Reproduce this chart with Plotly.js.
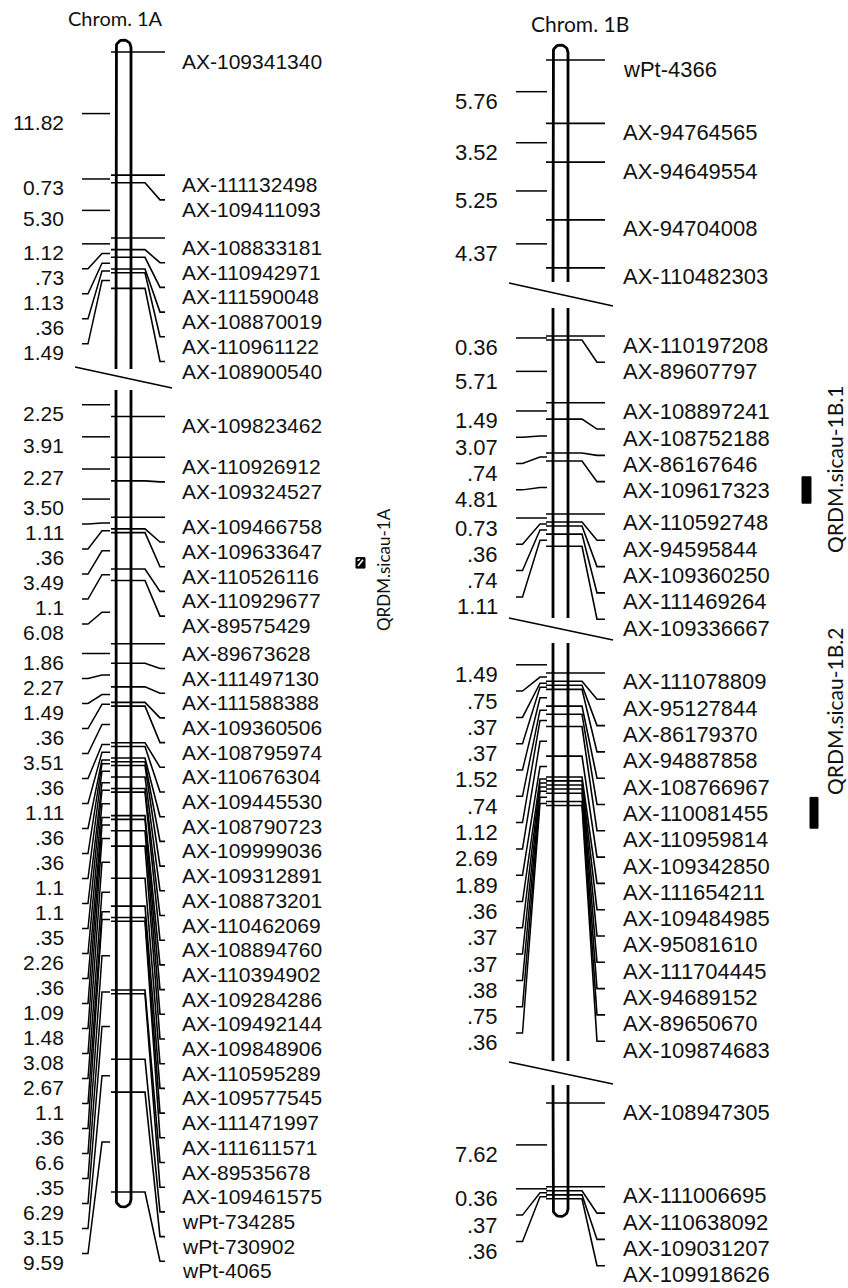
<!DOCTYPE html>
<html><head><meta charset="utf-8">
<script src="https://cdn.plot.ly/plotly-3.0.1.min.js"></script>
<style>html,body{margin:0;padding:0;background:#fff}#chart{width:848px;height:1288px}</style>
</head><body><div id="chart"></div>
<script>
// ---------------- DATA ----------------
const chromNames = ["Chrom. 1A", "Chrom. 1B"];

const markers1A = ["AX-109341340","AX-111132498","AX-109411093","AX-108833181","AX-110942971","AX-111590048","AX-108870019","AX-110961122","AX-108900540",
  "AX-109823462","AX-110926912","AX-109324527","AX-109466758","AX-109633647","AX-110526116","AX-110929677","AX-89575429","AX-89673628","AX-111497130",
  "AX-111588388","AX-109360506","AX-108795974","AX-110676304","AX-109445530","AX-108790723","AX-109999036","AX-109312891","AX-108873201","AX-110462069",
  "AX-108894760","AX-110394902","AX-109284286","AX-109492144","AX-109848906","AX-110595289","AX-109577545","AX-111471997","AX-111611571","AX-89535678",
  "AX-109461575","wPt-734285","wPt-730902","wPt-4065"];
// interval (cM) between marker i and i+1, as printed
const intervals1A = ["11.82","0.73","5.30","1.12",".73","1.13",".36","1.49",
  "2.25","3.91","2.27","3.50","1.11",".36","3.49","1.1","6.08","1.86","2.27","1.49",".36","3.51",".36","1.11",".36",".36","1.1","1.1",".35","2.26",".36",
  "1.09","1.48","3.08","2.67","1.1",".36","6.6",".35","6.29","3.15","9.59"];
const segStarts1A = [0, 9];

const markers1B = ["wPt-4366","AX-94764565","AX-94649554","AX-94704008","AX-110482303",
  "AX-110197208","AX-89607797","AX-108897241","AX-108752188","AX-86167646","AX-109617323","AX-110592748","AX-94595844","AX-109360250","AX-111469264","AX-109336667",
  "AX-111078809","AX-95127844","AX-86179370","AX-94887858","AX-108766967","AX-110081455","AX-110959814","AX-109342850","AX-111654211","AX-109484985","AX-95081610",
  "AX-111704445","AX-94689152","AX-89650670","AX-109874683",
  "AX-108947305","AX-111006695","AX-110638092","AX-109031207","AX-109918626"];
const intervals1B = ["5.76","3.52","5.25","4.37", null,
  "0.36","5.71","1.49","3.07",".74","4.81","0.73",".36",".74","1.11",
  "1.49",".75",".37",".37","1.52",".74","1.12","2.69","1.89",".36",".37",".37",".38",".75",".36", null,
  "7.62","0.36",".37",".36"];
const segStarts1B = [0, 5, 16, 31];

// QTL: chromosome, segment, start/end cM within segment
const qtlNames = ["QRDM.sicau-1A","QRDM.sicau-1B.1","QRDM.sicau-1B.2"];
const qtlChrom = [0, 1, 1];
const qtlSeg = [1, 1, 2];
const qtlStartCM = [15.8, 12.8, 12.8];
const qtlEndCM = [16.8, 15.2, 15.6];

// ---------------- LAYOUT GEOMETRY ----------------
const P = [
 {cx:123.5, ppc:10.42, half:7.5, tickL:-12.5, tickBend:21.5, tickDiag:36.5, tickEnd:41.5, labX:56.5,
  lStart:-13.5, lBend:-21.5, lDiag:-35.5, lEnd:-41.5, lLabX:-57.5, spacing:24.7, lSpacing:25, textOff:9.5, leftOff:8.5,
  font:21, titleX:115, titleY:18, titleSize:20,
  segs:[{origin:52, top:47.5, bot:369, capTop:true},{origin:393, top:390, bot:1199.5, capBot:true}],
  breakLines:[[75,367,172,388]]},
 {cx:560.5, ppc:11.0, half:7.5, tickL:-14.5, tickBend:21.5, tickDiag:36.5, tickEnd:44.5, labX:60.5,
  lStart:-13.5, lBend:-20.5, lDiag:-38, lEnd:-44.5, lLabX:-60.5, spacing:26.3, lSpacing:26.3, textOff:9, leftOff:10,
  font:22, titleX:580, titleY:23, titleSize:21,
  segs:[{origin:60, top:52.5, bot:282, capTop:true},{origin:336, top:308, bot:618},{origin:656.6, top:643, bot:1061},{origin:1103, top:1085, bot:1209, capBot:true}],
  breakLines:[[509,283,613,306],[509,618,613,640],[509,1062,613,1084]]}
];
const qtlBox = [{x0:356,x1:365,lx:383,ly:570,size:17,hatch:true},{x0:802,x1:811,lx:834,ly:470,size:21},{x0:810,x1:818,lx:834,ly:712,size:21}];

const chromData = [
  {markers:markers1A, intervals:intervals1A, starts:segStarts1A},
  {markers:markers1B, intervals:intervals1B, starts:segStarts1B}
];

const traces = [];
const annotations = [];

chromData.forEach((cd, c) => {
  const g = P[c];
  const cx = g.cx;
  const chromX = [], chromY = [];
  const tickX = [], tickY = [];
  const lx = [], ly = [];
  g.segs.forEach((s, k) => {
    const f = cd.starts[k];
    const last = (k + 1 < cd.starts.length ? cd.starts[k + 1] : cd.markers.length) - 1;
    const cm = [];
    let cur = 0;
    const cross = f > 0 && cd.intervals[f - 1] !== null;
    if (cross) cur = Number(cd.intervals[f - 1]);
    for (let i = f; i <= last; i++) {
      if (i > f) cur += Number(cd.intervals[i - 1]);
      cm.push(cur);
    }
    const ty = cm.map(v => s.origin + v * g.ppc);
    const arc = (cyc, up) => {
      const pts = [];
      for (let a = 0; a <= 180; a += 10) {
        const r = a * Math.PI / 180;
        pts.push([cx - g.half * Math.cos(r), cyc + (up ? -1 : 1) * g.half * Math.sin(r)]);
      }
      return pts;
    };
    const path = [];
    if (s.capTop) {
      path.push([cx - g.half, s.bot]);
      arc(s.top, true).forEach(p => path.push(p));
      path.push([cx + g.half, s.bot]);
      path.forEach(p => { chromX.push(p[0]); chromY.push(p[1]); });
      chromX.push(null); chromY.push(null);
    } else if (s.capBot) {
      path.push([cx - g.half, s.top]);
      arc(s.bot, false).forEach(p => path.push(p));
      path.push([cx + g.half, s.top]);
      path.forEach(p => { chromX.push(p[0]); chromY.push(p[1]); });
      chromX.push(null); chromY.push(null);
    } else {
      chromX.push(cx - g.half, cx - g.half, null, cx + g.half, cx + g.half, null);
      chromY.push(s.top, s.bot, null, s.top, s.bot, null);
    }
    let prev = -1e9;
    for (let j = 0; j < ty.length; j++) {
      const lead = Math.max(ty[j], prev + g.spacing);
      prev = lead;
      tickX.push(cx + g.tickL, cx + g.tickBend, cx + g.tickDiag, cx + g.tickEnd, null);
      tickY.push(ty[j], ty[j], lead, lead, null);
      annotations.push({x: cx + g.labX, y: lead + g.textOff, xref:'x', yref:'y', text: cd.markers[f + j],
        showarrow:false, xanchor:'left', yanchor:'middle', font:{family:'Liberation Sans, Arial, sans-serif', size:g.font, color:'#111'}});
    }
    let lprev = -1e9;
    const mids = [];
    if (cross) mids.push({y:(s.origin + ty[0]) / 2, t: cd.intervals[f - 1]});
    for (let j = 1; j < ty.length; j++) mids.push({y:(ty[j - 1] + ty[j]) / 2, t: cd.intervals[f + j - 1]});
    mids.forEach(m => {
      const lead = Math.max(m.y, lprev + g.lSpacing);
      lprev = lead;
      lx.push(cx + g.lStart, cx + g.lBend, cx + g.lDiag, cx + g.lEnd, null);
      ly.push(m.y, m.y, lead, lead, null);
      annotations.push({x: cx + g.lLabX, y: lead + g.leftOff, xref:'x', yref:'y', text: m.t,
        showarrow:false, xanchor:'right', yanchor:'middle', font:{family:'Liberation Sans, Arial, sans-serif', size:g.font, color:'#111'}});
    });
  });
  const bx = [], by = [];
  g.breakLines.forEach(b => { bx.push(b[0], b[2], null); by.push(b[1], b[3], null); });
  traces.push({x:chromX, y:chromY, mode:'lines', line:{color:'#000', width:2.8}, hoverinfo:'skip'});
  traces.push({x:tickX, y:tickY, mode:'lines', line:{color:'#000', width:1.6}, hoverinfo:'skip'});
  traces.push({x:lx, y:ly, mode:'lines', line:{color:'#000', width:1.5}, hoverinfo:'skip'});
  traces.push({x:bx, y:by, mode:'lines', line:{color:'#000', width:1.6}, hoverinfo:'skip'});
  annotations.push({x:g.titleX, y:g.titleY, xref:'x', yref:'y', text: chromNames[c], showarrow:false,
    xanchor:'center', yanchor:'middle', font:{family:'Lato, Carlito, sans-serif', size:g.titleSize, color:'#111'}});
});

qtlNames.forEach((q, i) => {
  const g = P[qtlChrom[i]];
  const s = g.segs[qtlSeg[i]];
  const y0 = s.origin + qtlStartCM[i] * g.ppc;
  const y1 = s.origin + qtlEndCM[i] * g.ppc;
  const b = qtlBox[i];
  traces.push({x:[b.x0, b.x1, b.x1, b.x0, b.x0], y:[y0, y0, y1, y1, y0], mode:'lines', fill:'toself',
    fillcolor:'#000', line:{color:'#000', width:1}, hoverinfo:'skip'});
  if (b.hatch) {
    traces.push({x:[b.x0 + 2, b.x1 - 2, null, b.x0 + 1.5, b.x0 + 4], y:[y1 - 2, y0 + 2, null, y0 + 3, y0 + 1.5], mode:'lines',
      line:{color:'#fff', width:1.6}, hoverinfo:'skip'});
  }
  annotations.push({x:b.lx, y:b.ly, xref:'x', yref:'y', text:q, showarrow:false, textangle:-90,
    xanchor:'center', yanchor:'middle', font:{family:'Lato, Carlito, sans-serif', size:b.size, color:'#111'}});
});

const layout = {
  width:848, height:1288, margin:{l:0, r:0, t:0, b:0},
  paper_bgcolor:'#fff', plot_bgcolor:'#fff', showlegend:false, hovermode:false,
  xaxis:{range:[0,848], visible:false, fixedrange:true},
  yaxis:{range:[1288,0], visible:false, fixedrange:true},
  annotations: annotations
};
Plotly.newPlot('chart', traces, layout, {staticPlot:true, displayModeBar:false});
</script></body></html>
